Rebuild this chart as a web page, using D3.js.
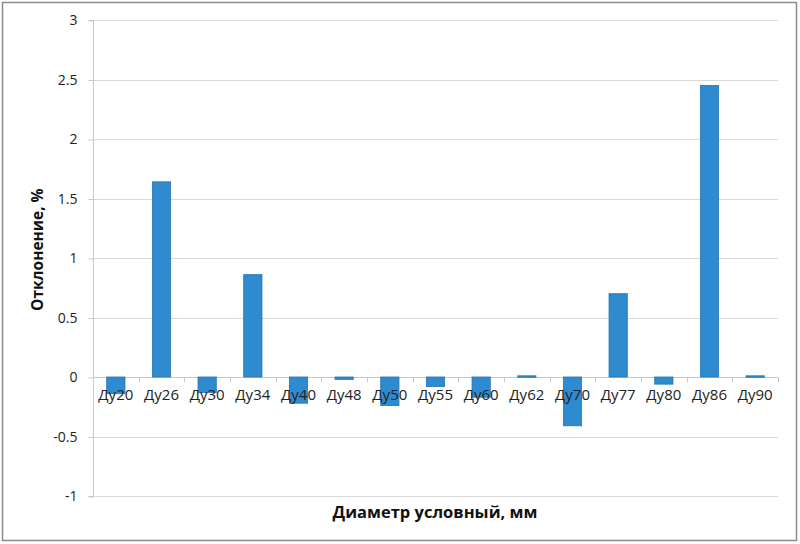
<!DOCTYPE html>
<html><head><meta charset="utf-8">
<script src="https://cdn.jsdelivr.net/npm/d3@7"></script>
<style>body{margin:0;background:#fff}svg{display:block}</style>
</head><body>
<script>
const categories = ["Ду20","Ду26","Ду30","Ду34","Ду40","Ду48","Ду50","Ду55","Ду60","Ду62","Ду70","Ду77","Ду80","Ду86","Ду90"];
const values = [-0.14, 1.64, -0.13, 0.86, -0.22, -0.02, -0.24, -0.08, -0.17, 0.01, -0.41, 0.70, -0.06, 2.45, 0.01];
const yTicks = [-1, -0.5, 0, 0.5, 1, 1.5, 2, 2.5, 3];

const W = 800, H = 544;
const m = {left: 93, right: 22, top: 20, bottom: 48};
const svg = d3.select("body").append("svg").attr("width", W).attr("height", H);
svg.append("rect").attr("x", 2.5).attr("y", 2.5).attr("width", W - 6).attr("height", H - 6)
  .attr("fill", "#fff").attr("stroke", "#8c8c8c").attr("stroke-width", 1.5);

const x = d3.scaleBand().domain(categories).range([m.left, W - m.right]).paddingInner(0.6).paddingOuter(0.3);
const xb = d3.scaleBand().domain(categories).range([m.left, W - m.right]);
const y = d3.scaleLinear().domain([-1, 3]).range([H - m.bottom, m.top]);

const font = "'Open Sans', 'DejaVu Sans', sans-serif";

// gridlines
svg.append("g").selectAll("line").data(yTicks).join("line")
  .attr("x1", m.left).attr("x2", W - m.right)
  .attr("y1", d => Math.round(y(d)) + 0.5).attr("y2", d => Math.round(y(d)) + 0.5)
  .attr("stroke", "#d9d9d9").attr("stroke-width", 1);

// y axis
const ya = svg.append("g").attr("transform", `translate(${m.left + 0.5},0.5)`)
  .call(d3.axisLeft(y).tickValues(yTicks).tickSize(5).tickFormat(d => String(d)));
ya.select(".domain").attr("stroke", "#c8c8c8").attr("d", `M-5,${Math.round(y(3))}H0V${Math.round(y(-1))}H-5`);
ya.selectAll(".tick line").attr("stroke", "#c8c8c8");
ya.selectAll(".tick text").attr("font-family", font).attr("font-size", 14).attr("fill", "#222").attr("dx", "-8");

// x axis at zero
const y0 = Math.round(y(0)) + 0.5;
const xa = svg.append("g");
xa.append("line").attr("x1", m.left).attr("x2", W - m.right).attr("y1", y0).attr("y2", y0).attr("stroke", "#c8c8c8");
xa.selectAll(".tk").data(categories.concat(["__end"])).join("line")
  .attr("x1", (d, i) => Math.round(i < categories.length ? xb(d) : W - m.right) + 0.5)
  .attr("x2", (d, i) => Math.round(i < categories.length ? xb(d) : W - m.right) + 0.5)
  .attr("y1", y0).attr("y2", y0 + 5).attr("stroke", "#c8c8c8");

// bars
svg.append("g").selectAll("rect").data(values).join("rect")
  .attr("x", (d, i) => x(categories[i]))
  .attr("width", x.bandwidth())
  .attr("y", d => y(Math.max(0, d)))
  .attr("height", d => Math.max(1.5, Math.abs(y(d) - y(0))))
  .attr("fill", "#2e8bd0").attr("stroke", "#2673b0").attr("stroke-width", 0.8);

// category labels (drawn over bars)
svg.append("g").selectAll("text").data(categories).join("text")
  .attr("x", d => xb(d) + xb.bandwidth() / 2).attr("y", y0 + 22)
  .attr("text-anchor", "middle").attr("font-family", font).attr("font-size", 15).attr("fill", "#222")
  .text(d => d);

// titles
svg.append("text").attr("transform", `translate(43,${y(1.07)}) rotate(-90)`)
  .attr("text-anchor", "middle").attr("font-family", font).attr("font-size", 15.5).attr("font-weight", "bold")
  .attr("fill", "#111").text("Отклонение, %");
svg.append("text").attr("x", 435).attr("y", 518)
  .attr("text-anchor", "middle").attr("font-family", font).attr("font-size", 16.5).attr("font-weight", "bold")
  .attr("fill", "#111").text("Диаметр условный, мм");
</script>
</body></html>
